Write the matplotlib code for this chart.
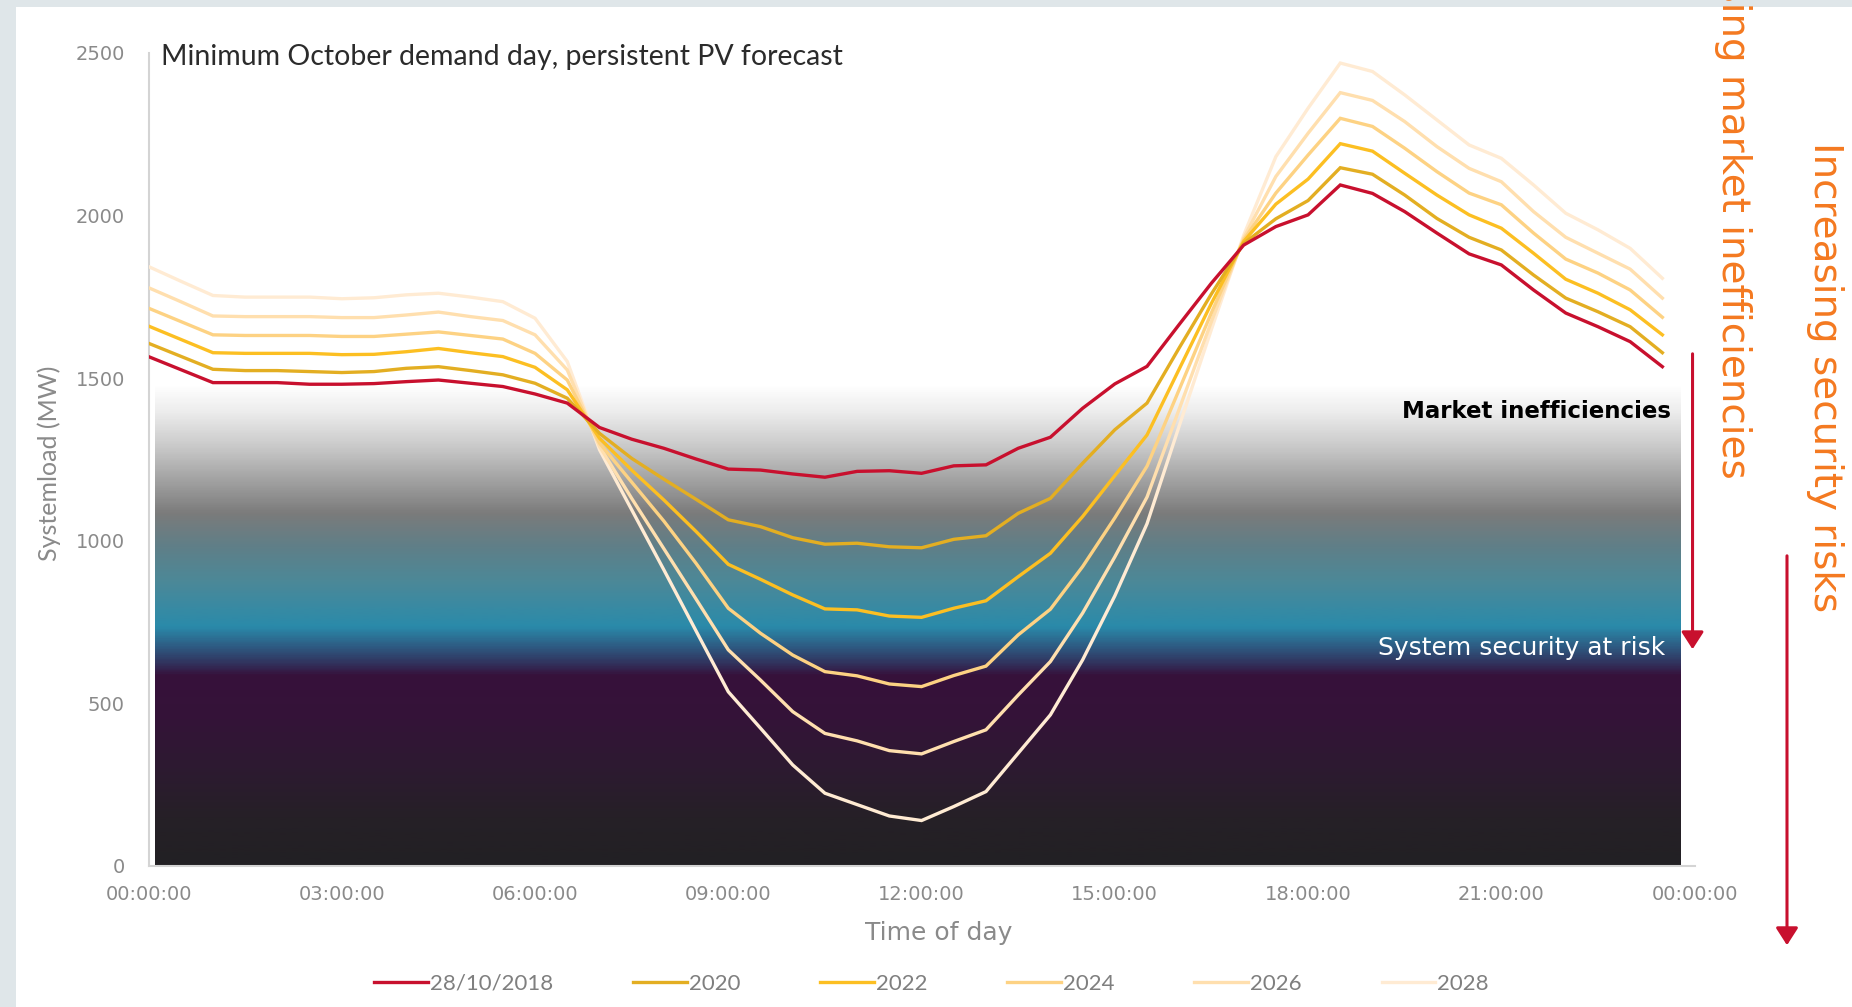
import numpy as np
import matplotlib
matplotlib.use("Agg")
import matplotlib.pyplot as plt
from matplotlib.colors import LinearSegmentedColormap
from matplotlib.patches import Rectangle, FancyArrowPatch

# Half-hourly time of day (hours)
hours = [h / 2 for h in range(48)]

load_2018 = [1566, 1526, 1486, 1486, 1486, 1481, 1481, 1483, 1489, 1494, 1484, 1474,
             1451, 1423, 1348, 1312, 1284, 1251, 1220, 1217, 1205, 1195, 1213, 1215,
             1207, 1230, 1233, 1284, 1318, 1407, 1482, 1536, 1665, 1792, 1909, 1966,
             2002, 2094, 2068, 2012, 1946, 1882, 1848, 1771, 1700, 1658, 1612, 1535]
load_2020 = [1607, 1567, 1527, 1523, 1523, 1520, 1517, 1520, 1530, 1535, 1523, 1510,
             1484, 1438, 1330, 1253, 1189, 1127, 1064, 1043, 1009, 989, 992, 981,
             978, 1004, 1015, 1084, 1130, 1238, 1341, 1423, 1593, 1759, 1914, 1990,
             2046, 2147, 2127, 2063, 1991, 1933, 1894, 1817, 1746, 1704, 1658, 1578]
load_2022 = [1660, 1619, 1578, 1576, 1576, 1576, 1572, 1573, 1581, 1591, 1578, 1566,
             1533, 1464, 1315, 1217, 1125, 1028, 927, 881, 833, 790, 787, 768,
             764, 792, 815, 889, 961, 1074, 1200, 1325, 1528, 1730, 1920, 2035,
             2112, 2221, 2198, 2130, 2063, 2002, 1961, 1884, 1804, 1761, 1710, 1633]
load_2024 = [1715, 1674, 1633, 1631, 1631, 1631, 1628, 1628, 1635, 1642, 1631, 1620,
             1576, 1494, 1300, 1180, 1060, 930, 792, 715, 648, 597, 584, 559,
             551, 585, 614, 710, 789, 920, 1070, 1229, 1465, 1701, 1925, 2069,
             2186, 2299, 2274, 2207, 2135, 2069, 2033, 1946, 1866, 1823, 1771, 1687]
load_2026 = [1778, 1735, 1691, 1689, 1689, 1689, 1686, 1686, 1694, 1703, 1689, 1677,
             1633, 1525, 1290, 1130, 975, 820, 664, 571, 474, 407, 384, 354,
             344, 382, 418, 525, 628, 777, 950, 1134, 1405, 1674, 1931, 2120,
             2253, 2378, 2354, 2289, 2212, 2145, 2104, 2012, 1933, 1884, 1835, 1746]
load_2028 = [1843, 1798, 1754, 1749, 1749, 1749, 1744, 1747, 1756, 1761, 1749, 1735,
             1684, 1551, 1280, 1095, 910, 722, 535, 423, 310, 223, 188, 153,
             139, 182, 228, 346, 464, 633, 830, 1052, 1353, 1650, 1939, 2181,
             2330, 2469, 2443, 2371, 2294, 2217, 2176, 2094, 2007, 1956, 1899, 1807]

series_labels = ["28/10/2018", "2020", "2022", "2024", "2026", "2028"]
series_colors = ["#c8102e", "#e3ae22", "#fcbf22", "#fdd283", "#ffdfae", "#ffebd3"]

tick_hours = [0, 3, 6, 9, 12, 15, 18, 21, 24]
tick_labels = ["00:00:00", "03:00:00", "06:00:00", "09:00:00", "12:00:00",
               "15:00:00", "18:00:00", "21:00:00", "00:00:00"]

# Background band: load level (MW) -> colour
band_mw = [0, 150, 300, 450, 585, 615, 670, 735, 800, 880, 980, 1085, 1190, 1290, 1400, 1480]
band_colors = ["#222024", "#262027", "#2d1a31", "#341338", "#37113b", "#322d58",
               "#2e5880", "#2a8aaa", "#3a8aa2", "#4d8897", "#5f7f88", "#7b7b7b",
               "#a3a3a3", "#c9c9c9", "#ededed", "#ffffff"]

SANS = ["Lato", "DejaVu Sans"]
GRAY = "#8a8a8a"

fig = plt.figure(figsize=(18.52, 10.07), dpi=100, facecolor="#dfe6e9")
fig.add_artist(Rectangle((0.0089, 0), 1, 0.993, transform=fig.transFigure,
                         facecolor="white", edgecolor="none", zorder=-10))

ax = fig.add_axes([0.0802, 0.1403, 0.8348, 0.8071])
ax.set_facecolor("none")

# gradient band behind the lines
top = band_mw[-1]
cmap = LinearSegmentedColormap.from_list(
    "band", list(zip(np.array(band_mw) / top, band_colors)))
ax.imshow(np.linspace(0, 1, 600).reshape(-1, 1), cmap=cmap, origin="lower",
          extent=[0.1, 23.78, 0, top], aspect="auto", zorder=0, interpolation="bilinear")

all_loads = [load_2018, load_2020, load_2022, load_2024, load_2026, load_2028]
handles = []
for vals, lab, col in zip(all_loads[::-1], series_labels[::-1], series_colors[::-1]):
    h, = ax.plot(hours, vals, color=col, lw=2.4, label=lab, zorder=3,
                 solid_joinstyle="miter")
    handles.append(h)
handles = handles[::-1]

ax.set_xlim(0, 24)
ax.set_ylim(0, 2500)
ax.set_xticks(tick_hours)
ax.set_xticklabels(tick_labels)
ax.set_yticks([0, 500, 1000, 1500, 2000, 2500])
ax.tick_params(length=0, labelsize=14, labelcolor=GRAY)
ax.tick_params(axis="y", pad=17)
ax.tick_params(axis="x", pad=14)
for s in ["top", "right"]:
    ax.spines[s].set_visible(False)
for s in ["left", "bottom"]:
    ax.spines[s].set_color("#d4d4d4")
    ax.spines[s].set_linewidth(1.5)

ax.text(0.2, 2488, "Minimum October demand day, persistent PV forecast",
        fontsize=20.5, family=SANS, color="#2b2b2b", va="center", ha="left")
ax.text(23.64, 1396, "Market inefficiencies", fontsize=16.5, color="black",
        ha="right", va="center", fontweight="bold", zorder=4)
ax.text(23.54, 669, "System security at risk", fontsize=18, color="white",
        ha="right", va="center", zorder=4)

fig.text(0.0268, 0.540, "Systemload (MW)", rotation=90, fontsize=18, family=SANS,
         color=GRAY, ha="center", va="center")
fig.text(0.5066, 0.073, "Time of day", fontsize=18, color=GRAY,
         ha="center", va="center")

# orange side notes with red arrows
orange = "#f47920"
fig.text(0.9357, 0.525, "Increasing market inefficiencies", rotation=-90,
         fontsize=28, color=orange, ha="center", va="bottom")
fig.text(0.9854, 0.859, "Increasing security risks", rotation=-90,
         fontsize=28, color=orange, ha="center", va="top")
for x, y0, y1 in [(0.9139, 0.6514, 0.3525), (0.9649, 0.4508, 0.0586)]:
    fig.add_artist(FancyArrowPatch((x, y0), (x, y1), transform=fig.transFigure,
                                   arrowstyle="-|>,head_length=7,head_width=4.5",
                                   color="#c8102e", lw=2.2, mutation_scale=1.5))

fig.legend(handles=handles, labels=series_labels, ncol=6, loc="center",
           bbox_to_anchor=(0.503, 0.023), frameon=False, handlelength=2.4,
           handletextpad=0.1, columnspacing=3.6,
           prop={"family": SANS, "size": 16}, labelcolor="#7f7f7f")

fig.savefig("out.png", dpi=100, facecolor=fig.get_facecolor())
